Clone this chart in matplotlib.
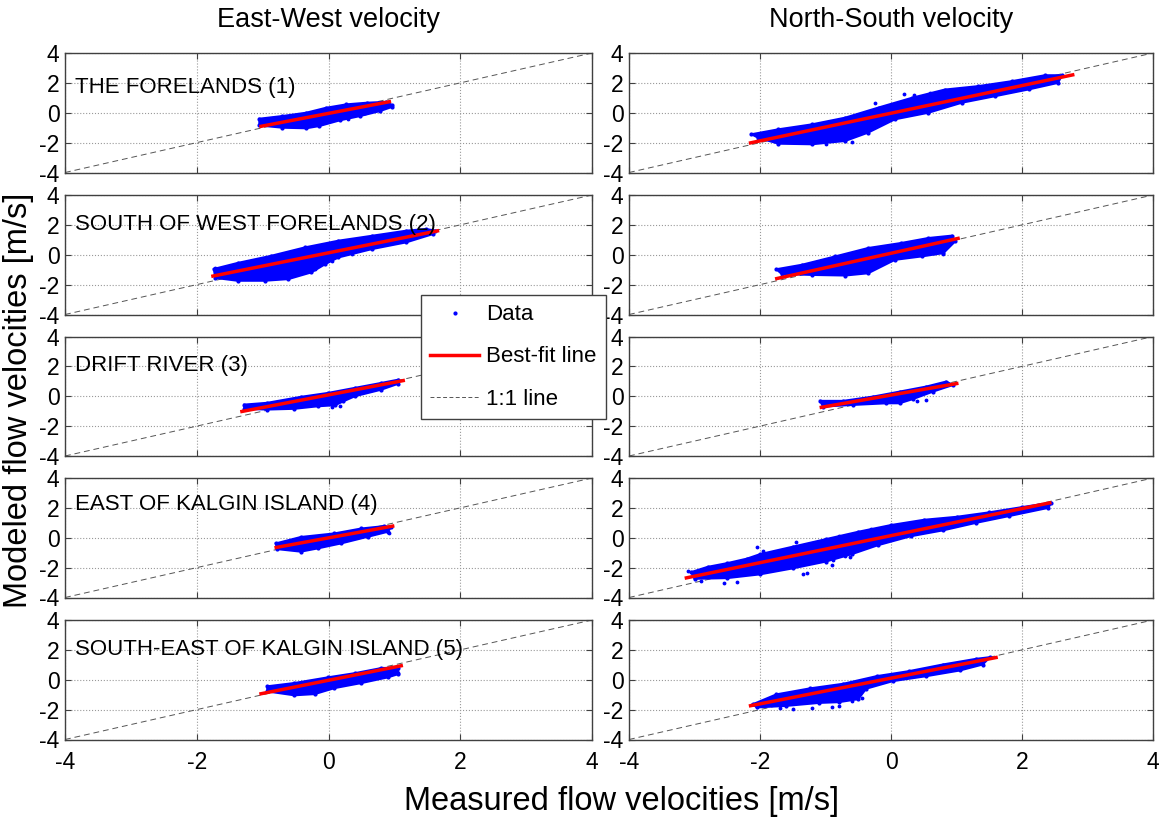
import numpy as np
import matplotlib
matplotlib.use('Agg')
import matplotlib.pyplot as plt
from matplotlib.lines import Line2D

plt.rcParams['font.family'] = ['Liberation Sans', 'DejaVu Sans']
plt.rcParams['axes.unicode_minus'] = False

# text
col_titles = ['East-West velocity', 'North-South velocity']
site_names = ['THE FORELANDS (1)', 'SOUTH OF WEST FORELANDS (2)', 'DRIFT RIVER (3)',
              'EAST OF KALGIN ISLAND (4)', 'SOUTH-EAST OF KALGIN ISLAND (5)']
ticks = [-4, -2, 0, 2, 4]

# East-West panels: (measured, modeled) edges of the point cloud, fit line ends
ew1_upper = [(-1.05, -0.40), (-0.70, -0.22), (-0.34, 0.00), (-0.04, 0.33), (0.27, 0.56),
             (0.58, 0.67), (0.88, 0.73), (0.97, 0.50)]
ew1_lower = [(-1.05, -0.85), (-0.70, -1.00), (-0.34, -1.04), (-0.14, -0.89), (0.17, -0.51),
             (0.48, -0.22), (0.78, 0.11), (0.97, 0.40)]
ew1_fit = [(-1.05, -0.93), (0.95, 0.76)]
ew1_extra = [(0.55, -0.05), (0.30, -0.45)]

ew2_upper = [(-1.74, -0.95), (-1.38, -0.55), (-0.87, -0.07), (-0.36, 0.49), (0.15, 0.94),
             (0.66, 1.27), (1.18, 1.61), (1.48, 1.72), (1.62, 1.62)]
ew2_lower = [(-1.72, -1.55), (-1.38, -1.74), (-0.97, -1.74), (-0.61, -1.63), (-0.26, -1.18),
             (-0.05, -0.63), (0.15, -0.18), (0.66, 0.38), (1.18, 0.83), (1.59, 1.39)]
ew2_fit = [(-1.78, -1.45), (1.68, 1.62)]
ew2_extra = [(-1.72, -0.88), (-0.20, -0.95), (0.05, -0.45), (0.35, 0.05)]

ew3_upper = [(-1.28, -0.56), (-0.93, -0.44), (-0.42, -0.04), (-0.01, 0.22), (0.40, 0.56),
             (0.80, 0.89), (1.06, 1.11)]
ew3_lower = [(-1.28, -0.84), (-0.93, -0.89), (-0.52, -0.84), (-0.16, -0.67), (0.10, -0.60),
             (0.22, -0.35), (0.40, 0.00), (0.80, 0.44), (1.06, 0.84)]
ew3_fit = [(-1.34, -1.04), (1.16, 1.07)]
ew3_extra = [(0.18, -0.62), (0.05, -0.70)]

ew4_upper = [(-0.80, -0.38), (-0.42, 0.05), (0.09, 0.29), (0.50, 0.62), (0.85, 0.78),
             (0.95, 0.70)]
ew4_lower = [(-0.78, -0.76), (-0.42, -0.93), (-0.16, -0.71), (0.19, -0.38), (0.60, 0.07),
             (0.90, 0.40)]
ew4_fit = [(-0.82, -0.67), (1.00, 0.80)]
ew4_extra = [(0.92, 0.35)]

ew5_upper = [(-0.93, -0.44), (-0.52, -0.22), (-0.01, 0.16), (0.40, 0.44), (0.80, 0.78),
             (1.06, 0.82)]
ew5_lower = [(-0.93, -0.78), (-0.52, -1.04), (-0.21, -0.96), (0.09, -0.56), (0.50, -0.22),
             (0.90, 0.16), (1.06, 0.38)]
ew5_fit = [(-1.05, -0.96), (1.13, 0.96)]
ew5_extra = [(1.05, 0.45), (0.95, 0.40)]

# North-South panels
ns1_upper = [(-2.13, -1.44), (-1.72, -1.11), (-1.21, -0.78), (-0.70, -0.33), (-0.19, 0.35),
             (0.32, 1.00), (0.82, 1.55), (1.33, 1.78), (1.84, 2.11), (2.35, 2.51), (2.61, 2.51)]
ns1_lower = [(-2.03, -1.67), (-1.72, -2.07), (-1.21, -2.11), (-0.70, -1.89), (-0.35, -1.33),
             (0.06, -0.44), (0.57, 0.00), (1.08, 0.67), (1.59, 1.11), (2.10, 1.56), (2.55, 2.00)]
ns1_fit = [(-2.17, -2.04), (2.80, 2.56)]
ns1_extra = [(-0.25, 0.65), (0.20, 1.25), (0.35, 1.20), (0.60, 1.35), (-0.60, -1.98),
             (-1.00, -2.12)]

ns2_upper = [(-1.75, -0.97), (-1.36, -0.67), (-0.85, -0.11), (-0.35, 0.45), (0.16, 0.79),
             (0.57, 1.12), (0.93, 1.28)]
ns2_lower = [(-1.67, -1.28), (-1.21, -1.35), (-0.70, -1.39), (-0.35, -1.24), (0.06, -0.34),
             (0.47, -0.11), (0.80, 0.11), (0.98, 0.90)]
ns2_fit = [(-1.77, -1.62), (1.05, 1.12)]
ns2_extra = [(0.80, 0.05), (0.65, 0.10)]

ns3_upper = [(-1.08, -0.31), (-0.73, -0.31), (-0.27, -0.02), (0.13, 0.31), (0.54, 0.65),
             (0.84, 0.98)]
ns3_lower = [(-1.04, -0.69), (-0.58, -0.58), (-0.07, -0.47), (0.13, -0.47), (0.34, -0.18),
             (0.64, 0.31), (0.95, 0.76)]
ns3_fit = [(-1.09, -0.76), (1.03, 0.87)]
ns3_extra = [(0.54, -0.25), (0.40, -0.30)]

ns4_upper = [(-3.05, -2.30), (-2.80, -1.95), (-2.50, -1.70), (-2.20, -1.40), (-2.00, -1.10),
             (-1.50, -0.60), (-1.00, -0.10), (-0.50, 0.40), (0.00, 0.85), (0.50, 1.20),
             (1.00, 1.40), (1.50, 1.70), (2.00, 2.05), (2.45, 2.35)]
ns4_lower = [(-3.00, -2.75), (-2.50, -2.70), (-2.00, -2.45), (-1.50, -2.05), (-1.00, -1.60),
             (-0.60, -1.10), (-0.20, -0.50), (0.30, 0.10), (0.80, 0.50), (1.30, 1.00),
             (1.80, 1.45), (2.40, 2.00)]
ns4_fit = [(-3.15, -2.71), (2.45, 2.36)]
ns4_extra = [(-3.10, -2.20), (-2.90, -2.90), (-2.55, -3.00), (-2.35, -2.95), (-2.05, -0.65),
             (-1.95, -0.90), (-1.45, -0.30), (-1.35, -2.40), (-1.28, -2.35), (-0.90, -1.85),
             (-0.88, -1.50), (-0.70, -1.20), (-0.62, -1.30), (-0.80, 0.10), (-0.30, 0.60)]

ns5_upper = [(-2.11, -1.64), (-1.75, -0.98), (-1.24, -0.58), (-0.73, -0.27), (-0.22, 0.24),
             (0.28, 0.58), (0.79, 1.02), (1.30, 1.40), (1.51, 1.51)]
ns5_lower = [(-2.05, -1.85), (-1.60, -1.75), (-1.10, -1.55), (-0.80, -1.50), (-0.50, -1.30),
             (-0.38, -0.60), (0.03, -0.09), (0.54, 0.24), (1.05, 0.62), (1.40, 1.02)]
ns5_fit = [(-2.17, -1.76), (1.63, 1.51)]
ns5_extra = [(-1.50, -1.95), (-1.20, -1.90), (-0.90, -1.85), (-0.80, -1.75), (-0.60, -1.40),
             (-0.45, -1.20), (-1.70, -1.90)]

ew_panels = [(ew1_upper, ew1_lower, ew1_fit, ew1_extra),
             (ew2_upper, ew2_lower, ew2_fit, ew2_extra),
             (ew3_upper, ew3_lower, ew3_fit, ew3_extra),
             (ew4_upper, ew4_lower, ew4_fit, ew4_extra),
             (ew5_upper, ew5_lower, ew5_fit, ew5_extra)]
ns_panels = [(ns1_upper, ns1_lower, ns1_fit, ns1_extra),
             (ns2_upper, ns2_lower, ns2_fit, ns2_extra),
             (ns3_upper, ns3_lower, ns3_fit, ns3_extra),
             (ns4_upper, ns4_lower, ns4_fit, ns4_extra),
             (ns5_upper, ns5_lower, ns5_fit, ns5_extra)]

W, H = 1159, 823
fig = plt.figure(figsize=(W / 100, H / 100), dpi=100)

col_px = [(65, 592), (629, 1153)]
row_tops = [53, 195, 336.5, 478, 620]
row_h = 119.5
label_y = [1.7, 2.05, 2.05, 2.2, 2.05]
frame_col = '#404040'


def draw_panel(ax, upper, lower, fit, extra):
    up = np.array(upper)
    lo = np.array(lower)
    xs = np.concatenate([up[:, 0], lo[::-1, 0]])
    ys = np.concatenate([up[:, 1], lo[::-1, 1]])
    ax.plot([-4, 4], [-4, 4], color='#555555', lw=0.7, dashes=(6, 4), zorder=2)
    ax.fill(xs, ys, color='blue', edgecolor='blue', lw=1.5, zorder=3)
    # dots along the cloud edge and loose points
    ax.plot(up[:, 0], up[:, 1], '.', color='blue', ms=4, zorder=3)
    ax.plot(lo[:, 0], lo[:, 1], '.', color='blue', ms=4, zorder=3)
    ex = np.array(extra)
    ax.plot(ex[:, 0], ex[:, 1], '.', color='blue', ms=3.5, zorder=3)
    ft = np.array(fit)
    ax.plot(ft[:, 0], ft[:, 1], color='red', lw=2.5, solid_capstyle='butt', zorder=4)


for c, panels in enumerate([ew_panels, ns_panels]):
    x0, x1 = col_px[c]
    for r, panel in enumerate(panels):
        top = row_tops[r]
        ax = fig.add_axes([x0 / W, 1 - (top + row_h) / H, (x1 - x0) / W, row_h / H])
        draw_panel(ax, *panel)
        ax.set_xlim(-4, 4)
        ax.set_ylim(-4, 4)
        ax.set_xticks(ticks)
        ax.set_yticks(ticks)
        ax.grid(True, ls=':', color='#999999', lw=0.8)
        ax.set_axisbelow(True)
        ax.tick_params(direction='in', length=4, top=True, right=True,
                       labelsize=16.5, color=frame_col, pad=4,
                       labelbottom=(r == 4))
        ax.tick_params(axis='x', pad=8)
        for sp in ax.spines.values():
            sp.set_color(frame_col)
            sp.set_linewidth(1.0)
        if c == 0:
            ax.text(-3.85, label_y[r], site_names[r], fontsize=16, va='center', ha='left',
                    zorder=5)
        if r == 0:
            ax.set_title(col_titles[c], fontsize=19.5, pad=19)

fig.text(0.016, 0.513, 'Modeled flow velocities [m/s]', rotation=90,
         va='center', ha='center', fontsize=23.5)
fig.text(0.536, 0.026, 'Measured flow velocities [m/s]',
         va='center', ha='center', fontsize=23.5)

handles = [Line2D([], [], marker='.', color='blue', ls='none', ms=4),
           Line2D([], [], color='red', lw=2.5),
           Line2D([], [], color='#555555', lw=0.7, dashes=(4, 2.5))]
fig.legend(handles, ['Data', 'Best-fit line', '1:1 line'],
           loc='upper left', bbox_to_anchor=(421 / W, 1 - 295 / H),
           bbox_transform=fig.transFigure, frameon=True, fancybox=False,
           edgecolor=frame_col, framealpha=1, fontsize=16,
           handlelength=2.2, handletextpad=0.3, labelspacing=0.95,
           borderpad=0.42, borderaxespad=0)

fig.savefig('out.png', dpi=100)
